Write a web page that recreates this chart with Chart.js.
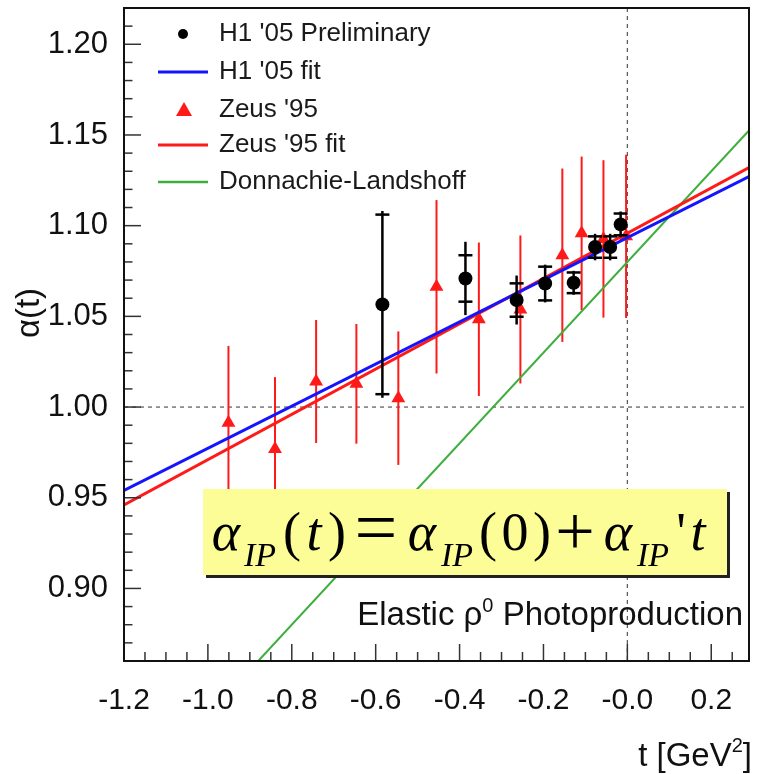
<!DOCTYPE html>
<html>
<head>
<meta charset="utf-8">
<script src="https://cdn.jsdelivr.net/npm/chart.js@4"></script>
<style>
  html, body { margin: 0; padding: 0; background: #fff; }
  canvas { display: block; }
</style>
</head>
<body>
<canvas id="alphaChart" width="757" height="774"></canvas>
<script>
// ---- data ----
var h1T       = [-0.584, -0.386, -0.264, -0.196, -0.128, -0.077, -0.041, -0.016];
var h1Alpha   = [1.0566, 1.0709, 1.0590, 1.0681, 1.0685, 1.0882, 1.0882, 1.1007];
var h1StatErr = [0.0495, 0.0128, 0.0092, 0.0093, 0.0057, 0.0059, 0.0059, 0.0060];
var h1TotErr  = [0.0515, 0.0202, 0.0135, 0.0104, 0.0066, 0.0073, 0.0073, 0.0071];

var zeusT     = [-0.951, -0.840, -0.742, -0.646, -0.546, -0.455, -0.354, -0.255, -0.155, -0.109, -0.057, -0.003];
var zeusAlpha = [0.9914, 0.9769, 1.0141, 1.0128, 1.0049, 1.0663, 1.0484, 1.0538, 1.0837, 1.0958, 1.0927, 1.0941];
var zeusErr   = [0.0423, 0.0396, 0.0339, 0.0330, 0.0368, 0.0478, 0.0423, 0.0408, 0.0478, 0.0423, 0.0434, 0.0450];

// straight lines: end points
var fitT         = [-1.2, 0.29];
var h1FitAlpha   = [0.954, 1.127];
var zeusFitAlpha = [0.946, 1.132];
var dlT          = [-0.88, 0.29];
var dlAlpha      = [0.86, 1.1525];

var xTicks      = [-1.2, -1.0, -0.8, -0.6, -0.4, -0.2, 0.0, 0.2];
var xTickLabels = ['-1.2', '-1.0', '-0.8', '-0.6', '-0.4', '-0.2', '-0.0', '0.2'];
var yTicks      = [0.90, 0.95, 1.00, 1.05, 1.10, 1.15, 1.20];
var yTickLabels = ['0.90', '0.95', '1.00', '1.05', '1.10', '1.15', '1.20'];

var names = ["H1 '05 Preliminary", "H1 '05 fit", "Zeus '95", "Zeus '95 fit", 'Donnachie-Landshoff'];

var BLUE  = '#1414ff';
var RED   = '#ff1a1a';
var GREEN = '#3fae3f';
var SANS  = '"Liberation Sans", Arial, sans-serif';
var SERIF = '"Liberation Serif", "Times New Roman", serif';

function pts(xs, ys) {
    return xs.map(function (x, i) { return { x: x, y: ys[i] }; });
}

// ---- drawing helpers ----
function seg(ctx, x1, y1, x2, y2) {
    ctx.beginPath();
    ctx.moveTo(x1, y1);
    ctx.lineTo(x2, y2);
    ctx.stroke();
}

function centered(ctx, text, cx, y, font) {
    ctx.font = font;
    ctx.textAlign = 'center';
    ctx.fillText(text, cx, y);
}

// text with a raised small part, right aligned at xr
function withSup(ctx, pre, sup, post, xr, y, size, supSize, lift) {
    ctx.textAlign = 'left';
    ctx.font = size + 'px ' + SANS;
    var w1 = ctx.measureText(pre).width, w3 = ctx.measureText(post).width;
    ctx.font = supSize + 'px ' + SANS;
    var w2 = ctx.measureText(sup).width;
    var x = xr - w1 - w2 - w3;
    ctx.font = size + 'px ' + SANS;
    ctx.fillText(pre, x, y);
    ctx.font = supSize + 'px ' + SANS;
    ctx.fillText(sup, x + w1, y - lift);
    ctx.font = size + 'px ' + SANS;
    ctx.fillText(post, x + w1 + w2, y);
}

var decor = {
    id: 'decor',
    beforeDatasetsDraw: function (chart) {
        var ctx = chart.ctx, a = chart.chartArea;
        var x0 = chart.scales.x.getPixelForValue(0);
        var y1 = chart.scales.y.getPixelForValue(1.0);
        ctx.save();
        ctx.strokeStyle = '#555';
        ctx.lineWidth = 1.2;
        ctx.setLineDash([4, 4]);
        seg(ctx, a.left, y1, a.right, y1);
        seg(ctx, x0, a.top, x0, a.bottom);
        ctx.restore();
    },
    beforeDatasetDraw: function (chart, args) {
        var ds = chart.data.datasets[args.index];
        if (!ds.totErr) return;
        var ctx = chart.ctx, ys = chart.scales.y;
        ctx.save();
        ctx.strokeStyle = ds.errColor;
        ctx.lineWidth = ds.errWidth;
        args.meta.data.forEach(function (pt, i) {
            var v = ds.data[i].y;
            seg(ctx, pt.x, ys.getPixelForValue(v + ds.totErr[i]), pt.x, ys.getPixelForValue(v - ds.totErr[i]));
            if (ds.statErr) {
                var yt = ys.getPixelForValue(v + ds.statErr[i]);
                var yb = ys.getPixelForValue(v - ds.statErr[i]);
                seg(ctx, pt.x - 7, yt, pt.x + 7, yt);
                seg(ctx, pt.x - 7, yb, pt.x + 7, yb);
            }
        });
        ctx.restore();
    },
    afterDraw: function (chart) {
        var ctx = chart.ctx, a = chart.chartArea;
        var xs = chart.scales.x, ys = chart.scales.y;
        ctx.save();

        // tick marks inside the frame
        ctx.strokeStyle = '#333';
        ctx.lineWidth = 1.5;
        for (var k = 86; k <= 122; k++) {
            var py = ys.getPixelForValue(k / 100);
            seg(ctx, a.left, py, a.left + (k % 5 === 0 ? 17 : 8.5), py);
        }
        for (var j = -24; j <= 5; j++) {
            var px = xs.getPixelForValue(j * 0.05);
            seg(ctx, px, a.bottom, px, a.bottom - (j % 4 === 0 ? 17 : 9));
        }

        // frame
        ctx.strokeStyle = '#111';
        ctx.lineWidth = 2;
        ctx.strokeRect(a.left, a.top, a.right - a.left, a.bottom - a.top);

        // legend
        ctx.fillStyle = '#1a1a1a';
        ctx.font = '26px ' + SANS;
        ctx.textAlign = 'left';
        ctx.textBaseline = 'middle';
        var rows = [34, 72, 110, 145, 182];
        names.forEach(function (n, i) { ctx.fillText(n, 219, rows[i]); });
        ctx.fillStyle = '#000';
        ctx.beginPath();
        ctx.arc(183, rows[0], 5, 0, Math.PI * 2);
        ctx.fill();
        ctx.fillStyle = RED;
        ctx.beginPath();
        ctx.moveTo(184, rows[2] - 8);
        ctx.lineTo(192, rows[2] + 6);
        ctx.lineTo(176, rows[2] + 6);
        ctx.closePath();
        ctx.fill();
        ctx.lineWidth = 3;
        ctx.strokeStyle = BLUE;  seg(ctx, 158, rows[1], 208, rows[1]);
        ctx.strokeStyle = RED;   seg(ctx, 158, rows[3], 208, rows[3]);
        ctx.lineWidth = 2.5;
        ctx.strokeStyle = GREEN; seg(ctx, 158, rows[4], 208, rows[4]);

        // formula box with shadow
        ctx.fillStyle = '#222';
        ctx.fillRect(206, 492, 524, 86);
        ctx.fillStyle = '#fdfd98';
        ctx.fillRect(203, 489, 524, 86);
        ctx.fillStyle = '#000';
        ctx.textBaseline = 'alphabetic';
        var F  = 'italic 54px ' + SERIF;
        var FU = '54px ' + SERIF;
        var FS = 'italic 34px ' + SERIF;
        centered(ctx, 'α', 226, 550, F);
        centered(ctx, 'IP', 260, 566, FS);
        centered(ctx, '(', 292, 550, FU);
        centered(ctx, 't', 314, 550, F);
        centered(ctx, ')', 337, 550, FU);
        centered(ctx, '=', 376, 553, '76px ' + SERIF);
        centered(ctx, 'α', 422, 550, F);
        centered(ctx, 'IP', 457, 566, FS);
        centered(ctx, '(', 488, 550, FU);
        centered(ctx, '0', 515, 550, FU);
        centered(ctx, ')', 542, 550, FU);
        centered(ctx, '+', 575, 555, '70px ' + SERIF);
        centered(ctx, 'α', 618, 550, F);
        centered(ctx, 'IP', 653, 566, FS);
        centered(ctx, "'", 681, 550, FU);
        centered(ctx, 't', 698, 550, F);

        // annotations and axis titles
        ctx.fillStyle = '#111';
        withSup(ctx, 'Elastic ρ', '0', ' Photoproduction', 743, 625, 33, 20, 13);
        withSup(ctx, 't [GeV', '2', ']', 752, 766, 33, 20, 14);

        ctx.translate(30, 313);
        ctx.rotate(-Math.PI / 2);
        ctx.textAlign = 'center';
        ctx.textBaseline = 'middle';
        ctx.font = '33px ' + SANS;
        ctx.fillText('α(t)', 0, 0);
        ctx.restore();
    }
};

new Chart(document.getElementById('alphaChart'), {
    type: 'scatter',
    data: {
        datasets: [
            {
                label: names[0],
                data: pts(h1T, h1Alpha),
                pointStyle: 'circle',
                pointRadius: 7,
                backgroundColor: '#000',
                borderColor: '#000',
                borderWidth: 0,
                statErr: h1StatErr,
                totErr: h1TotErr,
                errColor: '#000',
                errWidth: 2.5,
                order: 0
            },
            {
                label: names[1],
                data: pts(fitT, h1FitAlpha),
                showLine: true,
                borderColor: BLUE,
                borderWidth: 3,
                pointRadius: 0,
                order: 1
            },
            {
                label: names[3],
                data: pts(fitT, zeusFitAlpha),
                showLine: true,
                borderColor: RED,
                borderWidth: 3,
                pointRadius: 0,
                order: 2
            },
            {
                label: names[4],
                data: pts(dlT, dlAlpha),
                showLine: true,
                borderColor: GREEN,
                borderWidth: 2,
                pointRadius: 0,
                order: 3
            },
            {
                label: names[2],
                data: pts(zeusT, zeusAlpha),
                pointStyle: 'triangle',
                pointRadius: 8,
                backgroundColor: RED,
                borderColor: RED,
                borderWidth: 0,
                totErr: zeusErr,
                errColor: RED,
                errWidth: 2,
                order: 4
            }
        ]
    },
    options: {
        responsive: false,
        animation: false,
        devicePixelRatio: 1,
        layout: { padding: { top: 8, right: 4, left: 0, bottom: 0 } },
        plugins: { legend: { display: false }, tooltip: { enabled: false } },
        scales: {
            x: {
                type: 'linear',
                min: -1.2,
                max: 0.29,
                grid: { display: false, drawTicks: false },
                border: { display: false },
                afterBuildTicks: function (s) { s.ticks = xTicks.map(function (v) { return { value: v }; }); },
                afterFit: function (s) { s.height = 113; s.paddingLeft = 0; s.paddingRight = 0; },
                ticks: {
                    font: { family: 'Liberation Sans', size: 30 },
                    color: '#111',
                    padding: 22,
                    autoSkip: false,
                    maxRotation: 0,
                    minRotation: 0,
                    callback: function (v, i) { return xTickLabels[i]; }
                }
            },
            y: {
                type: 'linear',
                min: 0.86,
                max: 1.22,
                grid: { display: false, drawTicks: false },
                border: { display: false },
                afterBuildTicks: function (s) { s.ticks = yTicks.map(function (v) { return { value: v }; }); },
                afterFit: function (s) { s.width = 124; s.paddingTop = 0; s.paddingBottom = 0; },
                ticks: {
                    font: { family: 'Liberation Sans', size: 31 },
                    color: '#111',
                    padding: 16,
                    autoSkip: false,
                    callback: function (v, i) { return yTickLabels[i]; }
                }
            }
        }
    },
    plugins: [decor]
});
</script>
</body>
</html>
